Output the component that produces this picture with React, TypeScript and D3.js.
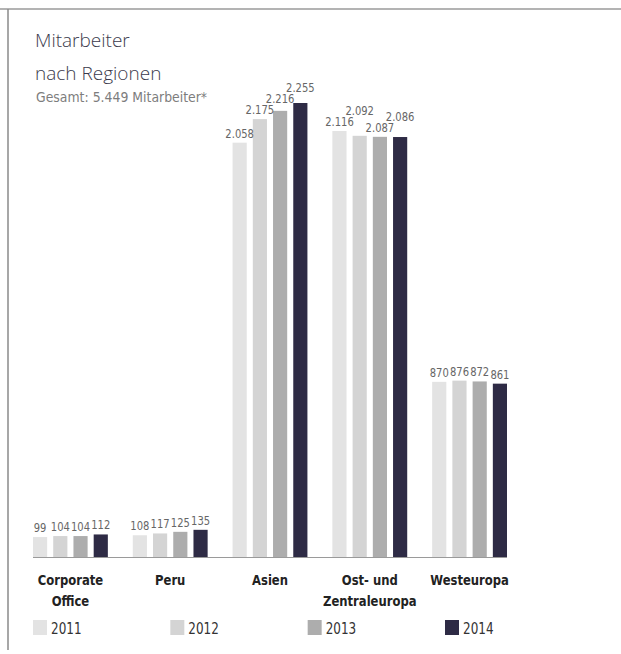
import React, { useEffect, useRef } from 'react';
import * as d3 from 'd3';

// Mitarbeiter nach Regionen, 2011-2014
const regions = ['Corporate Office', 'Peru', 'Asien', 'Ost- und Zentraleuropa', 'Westeuropa'];
const regionLines = [['Corporate', 'Office'], ['Peru'], ['Asien'], ['Ost- und', 'Zentraleuropa'], ['Westeuropa']];
const years = ['2011', '2012', '2013', '2014'];
const values2011 = [99, 108, 2058, 2116, 870];
const values2012 = [104, 117, 2175, 2092, 876];
const values2013 = [104, 125, 2216, 2087, 872];
const values2014 = [112, 135, 2255, 2086, 861];
const colors = ['#e3e3e3', '#d4d4d4', '#adadad', '#2e2b45'];

const labelFont = "'DejaVu Sans', sans-serif";
const SQUEEZE = 0.8; // the original uses a condensed face

const App: React.FC = () => {
  const ref = useRef<SVGSVGElement | null>(null);

  useEffect(() => {
    const svg = d3.select(ref.current);
    svg.selectAll('*').remove();

    const width = 621;
    const baseline = 557;

    const series = [values2011, values2012, values2013, values2014];
    const rows = regions.map((r, i) => ({
      region: r,
      values: years.map((y, j) => ({ year: y, value: series[j][i] })),
    }));

    const narrow = (x: number, y: number) => `translate(${x},${y}) scale(${SQUEEZE},1)`;

    // frame
    svg.append('line').attr('x1', 0).attr('x2', width).attr('y1', 9).attr('y2', 9)
      .attr('stroke', '#9a9a9a').attr('stroke-width', 1.5);
    svg.append('line').attr('x1', 8).attr('x2', 8).attr('y1', 9).attr('y2', 650)
      .attr('stroke', '#8a8a8a').attr('stroke-width', 1.5);

    // titles
    svg.append('text').attr('x', 35).attr('y', 47).text('Mitarbeiter')
      .attr('font-family', "'Open Sans', sans-serif").attr('font-weight', 300)
      .attr('font-size', 19).attr('fill', '#3b3a4c');
    svg.append('text').attr('x', 35).attr('y', 80).text('nach Regionen')
      .attr('font-family', "'Open Sans', sans-serif").attr('font-weight', 300)
      .attr('font-size', 19).attr('fill', '#3b3a4c');
    svg.append('text').attr('transform', `translate(36,102) scale(0.86,1)`)
      .text('Gesamt: 5.449 Mitarbeiter*')
      .attr('font-family', labelFont).attr('font-size', 14.5).attr('fill', '#7d7d7d');

    const x0 = d3.scaleBand<string>().domain(regions).range([33, 507]).paddingInner(0.25);
    const x1 = d3.scaleBand<string>().domain(years).range([0, x0.bandwidth()]).paddingInner(0.3);
    const maxV = d3.max(series.flat())!;
    const y = d3.scaleLinear().domain([0, maxV]).range([baseline, 103]);
    const color = d3.scaleOrdinal<string, string>().domain(years).range(colors);

    const groups = svg.append('g').selectAll('g').data(rows).join('g')
      .attr('transform', (d) => `translate(${x0(d.region)},0)`);

    groups.selectAll('rect').data((d) => d.values).join('rect')
      .attr('x', (d) => x1(d.year)!)
      .attr('y', (d) => y(d.value))
      .attr('width', x1.bandwidth())
      .attr('height', (d) => baseline - y(d.value))
      .attr('fill', (d) => color(d.year));

    // value labels, lifted when they would collide with the neighbour
    const fmt = (v: number) => d3.format(',')(v).replace(/,/g, '.');
    groups.each(function (d) {
      const g = d3.select(this);
      let prevY = Infinity;
      let prevW = 0;
      d.values.forEach((v, j) => {
        const txt = fmt(v.value);
        const w = txt.length * 5.6;
        let ty = y(v.value) - 5;
        const overlapX = j > 0 && (w + prevW) / 2 > x1.step();
        if (overlapX && Math.abs(ty - prevY) < 11) ty = prevY - 11;
        g.append('text')
          .attr('transform', narrow(x1(v.year)! + x1.bandwidth() / 2, ty))
          .attr('text-anchor', 'middle')
          .attr('font-family', labelFont)
          .attr('font-size', 12.5)
          .attr('fill', '#666')
          .text(txt);
        prevY = ty;
        prevW = w;
      });
    });

    // baseline
    svg.append('line').attr('x1', 33).attr('x2', 507).attr('y1', baseline + 0.5).attr('y2', baseline + 0.5)
      .attr('stroke', '#9a9a9a').attr('stroke-width', 1);

    // category labels
    svg.append('g').selectAll('text').data(regions).join('text')
      .attr('transform', (d) => narrow(x0(d)! + x0.bandwidth() / 2, 585))
      .attr('text-anchor', 'middle')
      .attr('font-family', labelFont)
      .attr('font-weight', 'bold')
      .attr('font-size', 14.5)
      .attr('fill', '#222')
      .each(function (_d, i) {
        const t = d3.select(this);
        regionLines[i].forEach((line, k) => {
          t.append('tspan').attr('x', 0).attr('dy', k === 0 ? 0 : 21).text(line);
        });
      });

    // legend
    const lx = d3.scalePoint<string>().domain(years).range([33, 445]);
    const items = svg.append('g').selectAll('g').data(years).join('g')
      .attr('transform', (d) => `translate(${lx(d)},620)`);
    items.append('rect').attr('width', 14).attr('height', 15).attr('fill', (d) => color(d));
    items.append('text').attr('transform', narrow(18, 14)).text((d) => d)
      .attr('font-family', labelFont).attr('font-size', 15).attr('fill', '#333');
  }, []);

  return (
    <svg
      ref={ref}
      width={621}
      height={654}
      style={{ position: 'absolute', left: 0, top: 0, display: 'block', background: '#fff' }}
    />
  );
};

export default App;
